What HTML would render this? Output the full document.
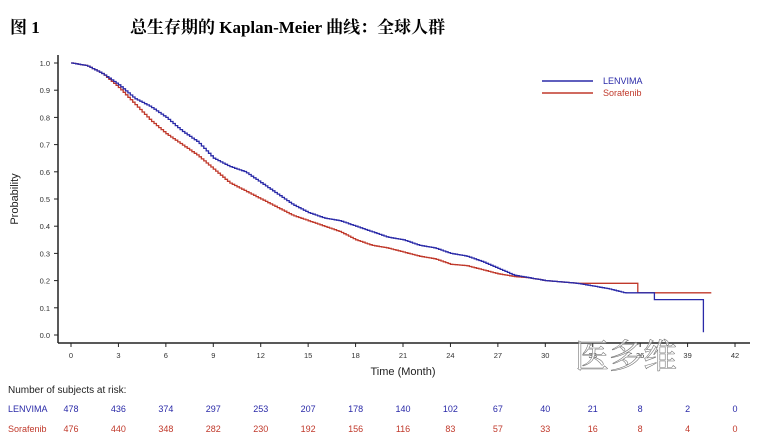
<!DOCTYPE html>
<html><head><meta charset="utf-8"><style>
body{margin:0;background:#fff;width:764px;height:445px;overflow:hidden;position:relative}
.t{position:absolute;font-family:"Liberation Serif","Noto Serif CJK SC",serif;font-weight:bold;font-size:17px;top:13px}
</style></head><body>
<div class="t" style="left:10px">图 1</div>
<div class="t" style="left:130px">总生存期的 Kaplan-Meier 曲线：全球人群</div>
<svg id="s" width="764" height="445" style="position:absolute;left:0;top:0" font-family="Liberation Sans, sans-serif">
<line x1="58" y1="55" x2="58" y2="343" stroke="#222" stroke-width="1.5"/>
<line x1="58" y1="343" x2="750" y2="343" stroke="#222" stroke-width="1.5"/>
<g id="ax" font-size="7.5" fill="#333"></g>
<text x="18" y="199" font-size="11" fill="#222" transform="rotate(-90 18 199)" text-anchor="middle">Probability</text>
<text x="403" y="375" font-size="11" fill="#222" text-anchor="middle">Time (Month)</text>
<line x1="542" y1="81" x2="593" y2="81" stroke="#2a2aa8" stroke-width="1.5"/>
<line x1="542" y1="93" x2="593" y2="93" stroke="#c0392b" stroke-width="1.5"/>
<text x="603" y="84" font-size="9" fill="#2a2aa8">LENVIMA</text>
<text x="603" y="96" font-size="9" fill="#c0392b">Sorafenib</text>
<g id="cv"></g>
<text x="8" y="393" font-size="10" fill="#222">Number of subjects at risk:</text>
<text x="8" y="412" font-size="9" fill="#2a2aa8">LENVIMA</text>
<text x="8" y="432" font-size="9" fill="#c0392b">Sorafenib</text>
<g id="rk" font-size="9" text-anchor="middle"></g>
<text x="575" y="368" font-size="34" fill="#fff" fill-opacity="0.6" stroke="#777" stroke-width="0.6" font-family="Noto Serif CJK SC, serif">医多维</text>
</svg>
<script>
var X=function(m){return 71+m*15.81},Y=function(p){return 335-p*272};
var ax=document.getElementById('ax'),h='';
for(var i=0;i<=10;i++){var y=Y(i/10);h+='<line x1="54" y1="'+y+'" x2="58" y2="'+y+'" stroke="#222"/><text x="50" y="'+(y+3)+'" text-anchor="end">'+(i/10).toFixed(1)+'</text>';}
for(var m=0;m<=42;m+=3){var x=X(m);h+='<line x1="'+x+'" y1="343" x2="'+x+'" y2="347" stroke="#222"/><text x="'+x+'" y="358" text-anchor="middle">'+m+'</text>';}
ax.innerHTML=h;
var L=[[0,1],[1,.99],[2,.96],[3,.92],[4,.87],[5,.84],[6,.8],[7,.75],[8,.71],[9,.65],[10,.62],[11,.6],[12,.56],[13,.52],[14,.48],[15,.45],[16,.43],[17,.42],[18,.4],[19,.38],[20,.36],[21,.35],[22,.33],[23,.32],[24,.3],[25,.29],[26,.27],[27,.245],[28,.22],[29,.21],[30,.2],[31,.195],[32,.19],[33,.18],[34,.17],[35,.155],[36.8,.155],[36.81,.13],[40,.13]];
var S=[[0,1],[1,.99],[2,.96],[3,.91],[4,.85],[5,.79],[6,.74],[7,.7],[8,.66],[9,.61],[10,.56],[11,.53],[12,.5],[13,.47],[14,.44],[15,.42],[16,.4],[17,.38],[18,.35],[19,.33],[20,.32],[21,.305],[22,.29],[23,.28],[24,.26],[25,.255],[26,.24],[27,.225],[28,.215],[29,.21],[30,.2],[31,.195],[32,.19],[35.7,.19],[35.71,.155],[40.5,.155]];
function path(P,end){var d='M'+X(0)+' '+Y(1);
for(var t=0.15;t<=P[P.length-1][0];t+=0.15){var k=0;while(k<P.length-2&&P[k+1][0]<t)k++;var a=P[k],b=P[k+1];var f=(t-a[0])/(b[0]-a[0]);if(f>1)f=1;var p=a[1]+(b[1]-a[1])*f;
d+=' H'+X(t).toFixed(1)+' V'+Y(p).toFixed(1);}
d+=' H'+X(P[P.length-1][0]);if(end)d+=' V'+Y(0.01);return d;}
document.getElementById('cv').innerHTML='<path d="'+path(S,0)+'" fill="none" stroke="#c0392b" stroke-width="1.3"/><path d="'+path(L,1)+'" fill="none" stroke="#2a2aa8" stroke-width="1.3"/>';
var rl=[478,436,374,297,253,207,178,140,102,67,40,21,8,2,0],rs=[476,440,348,282,230,192,156,116,83,57,33,16,8,4,0],r='';
for(var i=0;i<15;i++){r+='<text x="'+X(i*3)+'" y="412" fill="#2a2aa8">'+rl[i]+'</text><text x="'+X(i*3)+'" y="432" fill="#c0392b">'+rs[i]+'</text>';}
document.getElementById('rk').innerHTML=r;
</script>
</body></html>
